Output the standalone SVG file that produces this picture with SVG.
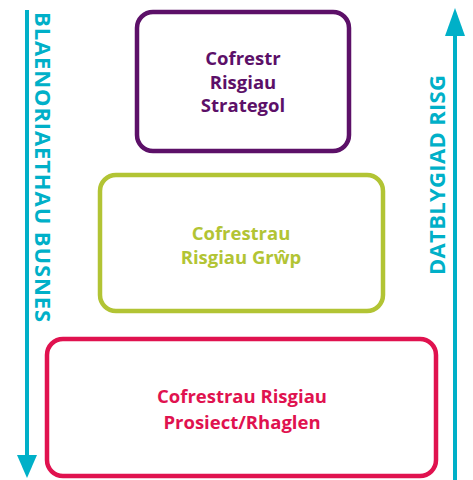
<svg xmlns="http://www.w3.org/2000/svg" width="473" height="480" viewBox="0 0 473 480">
<style>
.box{fill:#fff;stroke-width:4.5}
.t{font-family:"Open Sans","Noto Sans",sans-serif;font-weight:700;text-anchor:middle}
.lbl{font-size:18.5px}
.side{font-size:22px;fill:#00B0C8}
.arr{stroke:#00B0C8;stroke-width:4;fill:none}
</style>
<rect width="473" height="480" fill="#fff"/>
<g id="connectors">
<line class="arr" x1="27" y1="10" x2="27" y2="460"/>
<polygon points="17,455 37,455 27,478" fill="#00B0C8"/>
<line class="arr" x1="455" y1="30" x2="455" y2="480"/>
<polygon points="445,36 465,36 455,8" fill="#00B0C8"/>
</g>
<g id="label-left">
<text class="t side" transform="translate(35,167) rotate(90)" textLength="310" lengthAdjust="spacing">BLAENORIAETHAU BUSNES</text>
</g>
<g id="label-right">
<text class="t side" transform="translate(445,175) rotate(-90)" textLength="200" lengthAdjust="spacing">DATBLYGIAD RISG</text>
</g>
<g id="node-strategol">
<rect class="box" x="137" y="12" width="212" height="139" rx="16" stroke="#5C1068"/>
<text class="t lbl" fill="#5C1068"><tspan x="243" y="65">Cofrestr</tspan><tspan x="243" y="89">Risgiau</tspan><tspan x="243" y="112">Strategol</tspan></text>
</g>
<g id="node-grwp">
<rect class="box" x="100" y="175" width="283" height="136" rx="16" stroke="#B2C434"/>
<text class="t lbl" fill="#B2C434"><tspan x="241" y="240">Cofrestrau</tspan><tspan x="241" y="264">Risgiau Grŵp</tspan></text>
</g>
<g id="node-prosiect">
<rect class="box" x="47" y="339" width="389" height="137" rx="16" stroke="#E0124F"/>
<text class="t lbl" fill="#E0124F"><tspan x="242" y="403">Cofrestrau Risgiau</tspan><tspan x="242" y="429">Prosiect/Rhaglen</tspan></text>
</g>
</svg>
